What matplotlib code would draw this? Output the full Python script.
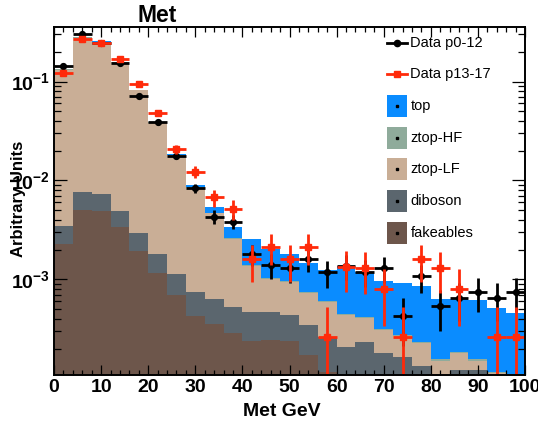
import numpy as np
import matplotlib
matplotlib.use("Agg")
import matplotlib.pyplot as plt
from matplotlib.ticker import FixedLocator, NullFormatter, MultipleLocator
from matplotlib.patches import Rectangle
from matplotlib.lines import Line2D

plt.rcParams['font.family'] = ['Liberation Sans', 'DejaVu Sans']
plt.rcParams['mathtext.fontset'] = 'custom'
plt.rcParams['mathtext.bf'] = 'Liberation Sans:bold'
plt.rcParams['mathtext.rm'] = 'Liberation Sans:bold'

# ---- binning: Met in GeV, 25 bins of 4 GeV ----
bin_edges = np.arange(0, 101, 4)

# ---- stacked backgrounds (normalised, arbitrary units) ----
fakeables = [2.29e-3, 5.03e-3, 4.92e-3, 3.37e-3, 1.94e-3, 1.16e-3, 6.97e-4, 4.27e-4,
             3.55e-4, 2.86e-4, 2.41e-4, 2.45e-4, 2.40e-4, 1.73e-4, 1.15e-4, 0, 0, 0,
             0, 0, 0, 0, 0, 0, 0]
diboson = [1.21e-3, 2.57e-3, 2.44e-3, 1.59e-3, 9.9e-4, 6.3e-4, 4.33e-4, 3.26e-4,
           2.76e-4, 2.38e-4, 2.32e-4, 2.22e-4, 1.98e-4, 1.74e-4, 1.45e-4, 2.09e-4,
           2.35e-4, 1.80e-4, 1.66e-4, 1.34e-4, 0.9e-4, 1.2e-4, 1.2e-4, 0.3e-4, 0.2e-4]
ztop_lf = [0.1275, 0.2684, 0.2430, 0.1517, 0.0784, 0.0366, 0.01677, 7.61e-3, 4.02e-3,
           2.03e-3, 8.97e-4, 5.43e-4, 5.02e-4, 3.88e-4, 3.28e-4, 2.26e-4, 1.75e-4,
           1.27e-4, 1.03e-4, 0.96e-4, 0.61e-4, 0.61e-4, 0.31e-4, 0.82e-4, 0.2e-4]
ztop_hf = [2.0e-3, 4.0e-3, 3.6e-3, 2.3e-3, 1.2e-3, 6e-4, 3e-4, 1.4e-4, 8e-5, 5e-5,
           3e-5, 2e-5, 2e-5, 1.5e-5, 1.2e-5, 1e-5, 1e-5, 8e-6, 6e-6, 5e-6, 4e-6,
           4e-6, 4e-6, 3e-6, 2e-6]
top = [1e-4, 2e-4, 2e-4, 2e-4, 2e-4, 2e-4, 3e-4, 6.0e-4, 7.0e-4, 7.7e-4, 1.15e-3,
       9.9e-4, 8.4e-4, 7.1e-4, 6.4e-4, 9.25e-4, 7.8e-4, 6.55e-4, 6.45e-4, 6.15e-4,
       4.85e-4, 4.55e-4, 4.65e-4, 4.0e-4, 4.2e-4]

# ---- data, two run periods ----
data_p0_12 = [0.1445, 0.302, 0.245, 0.153, 0.0714, 0.0387, 0.0178, 8.34e-3, 4.3e-3,
              3.84e-3, 1.81e-3, 1.4e-3, 1.3e-3, 1.61e-3, 1.18e-3, 1.37e-3, 1.2e-3,
              1.3e-3, 4.28e-4, 1.07e-3, 5.4e-4, 6.46e-4, 7.53e-4, 6.46e-4, 7.53e-4]
data_p13_17 = [0.121, 0.267, 0.243, 0.170, 0.095, 0.0484, 0.0207, 0.01228, 6.76e-3,
               5.12e-3, 1.6e-3, 2.14e-3, 1.6e-3, 2.14e-3, 2.64e-4, 1.33e-3, 1.3e-3,
               8.0e-4, 2.64e-4, 1.6e-3, 1.31e-3, 8.0e-4, np.nan, 2.64e-4, 2.64e-4]
# per-event weight of each data sample (sets the Poisson error bars)
weight_p0_12 = 1.07e-4
weight_p13_17 = 2.64e-4

labels = ["Data p0-12", "Data p13-17", "top", "ztop-HF", "ztop-LF", "diboson", "fakeables"]
colors = {"top": "#0a8cff", "ztop-HF": "#8fab9b", "ztop-LF": "#c9ae96",
          "diboson": "#5b666e", "fakeables": "#6d564b"}
col_black = "#000000"
col_red = "#ff2a0a"

W, H = 538, 425
fig = plt.figure(figsize=(W / 100, H / 100), dpi=100)
L, R, T, B = 54, 525, 27, 375
ax = fig.add_axes([L / W, 1 - B / H, (R - L) / W, (B - T) / H])

ymin, ymax = 1.08e-4, 0.356
ax.set_yscale("log")
ax.set_xlim(0, 100)
ax.set_ylim(ymin, ymax)

# stack: draw cumulative tops from highest layer down
stack_order = [("fakeables", fakeables), ("diboson", diboson), ("ztop-LF", ztop_lf),
               ("ztop-HF", ztop_hf), ("top", top)]
cum = np.zeros(len(bin_edges) - 1)
cums = []
for name, vals in stack_order:
    cum = cum + np.asarray(vals, dtype=float)
    cums.append((name, cum.copy()))
for name, c in reversed(cums):
    ax.stairs(np.maximum(c, 1e-7), bin_edges, baseline=1e-7, fill=True,
              color=colors[name], lw=0, zorder=1)

centers = 0.5 * (bin_edges[:-1] + bin_edges[1:])
halfw = 0.5 * np.diff(bin_edges)


def draw_data(vals, w, color, marker, ms, z):
    v = np.asarray(vals, dtype=float)
    err = np.sqrt(v * w)
    lo = np.minimum(err, v - 1e-7)
    ax.errorbar(centers, v, yerr=[lo, err], xerr=halfw, fmt=marker, color=color,
                ms=ms, mec=color, mfc=color, elinewidth=2.0, capsize=0, zorder=z)


draw_data(data_p0_12, weight_p0_12, col_black, "o", 4.2, 3)
draw_data(data_p13_17, weight_p13_17, col_red, "s", 5.0, 4)

# axes styling
for s in ax.spines.values():
    s.set_linewidth(1.4)
    s.set_zorder(6)
ax.xaxis.set_major_locator(MultipleLocator(10))
ax.xaxis.set_minor_locator(MultipleLocator(2))
ax.yaxis.set_major_locator(FixedLocator([1e-3, 1e-2, 1e-1]))
minor = [m * 10.0 ** e for e in (-4, -3, -2, -1) for m in range(2, 10)]
ax.yaxis.set_minor_locator(FixedLocator(minor))
ax.yaxis.set_minor_formatter(NullFormatter())
ax.set_yticklabels([r"$\mathbf{10^{-3}}$", r"$\mathbf{10^{-2}}$", r"$\mathbf{10^{-1}}$"])
ax.tick_params(axis="both", which="both", direction="in", top=True, right=True, width=0.9,
               zorder=6)
ax.tick_params(axis="x", which="major", length=7.5, labelsize=14, pad=3)
ax.tick_params(axis="x", which="minor", length=3.8)
ax.tick_params(axis="y", which="major", length=9.5, labelsize=14, pad=3)
ax.tick_params(axis="y", which="minor", length=5)
for lab in ax.get_xticklabels():
    lab.set_fontweight("bold")

fig.text(157 / W, 1 - 15 / H, "Met", fontsize=16.5, fontweight="bold",
         ha="center", va="center")
fig.text(282 / W, 1 - 411 / H, "Met GeV", fontsize=14, fontweight="bold",
         ha="center", va="center")
fig.text(19 / W, 1 - 199 / H, "Arbitrary Units", fontsize=12, fontweight="bold",
         ha="center", va="center", rotation=90)

# legend drawn in pixel layout
def px(x, y):
    return (x / W, 1 - y / H)

row0, dy = 42.5, 31.7
sw_x0, sw_x1 = 387, 407
for i, lab in enumerate(labels):
    yc = row0 + i * dy
    if i < 2:
        c = col_black if i == 0 else col_red
        mk = "o" if i == 0 else "s"
        fig.add_artist(Line2D([sw_x0 / W, sw_x1 / W], [1 - yc / H] * 2, color=c, lw=2,
                              transform=fig.transFigure))
        fig.add_artist(Line2D([(sw_x0 + sw_x1) / 2 / W], [1 - yc / H], marker=mk,
                              color=c, ms=4.5 if i == 0 else 5, lw=0,
                              transform=fig.transFigure))
    else:
        fig.add_artist(Rectangle(px(sw_x0, yc + 11), (sw_x1 - sw_x0) / W, 22 / H,
                                 color=colors[lab], lw=0, transform=fig.transFigure))
        fig.add_artist(Line2D([(sw_x0 + sw_x1) / 2 / W], [1 - yc / H], marker="s",
                              color="black", ms=1.5, lw=0, transform=fig.transFigure))
    fig.text(410.5 / W, 1 - yc / H, lab, fontsize=10.5, ha="left", va="center")

fig.savefig("out.png", dpi=100)
